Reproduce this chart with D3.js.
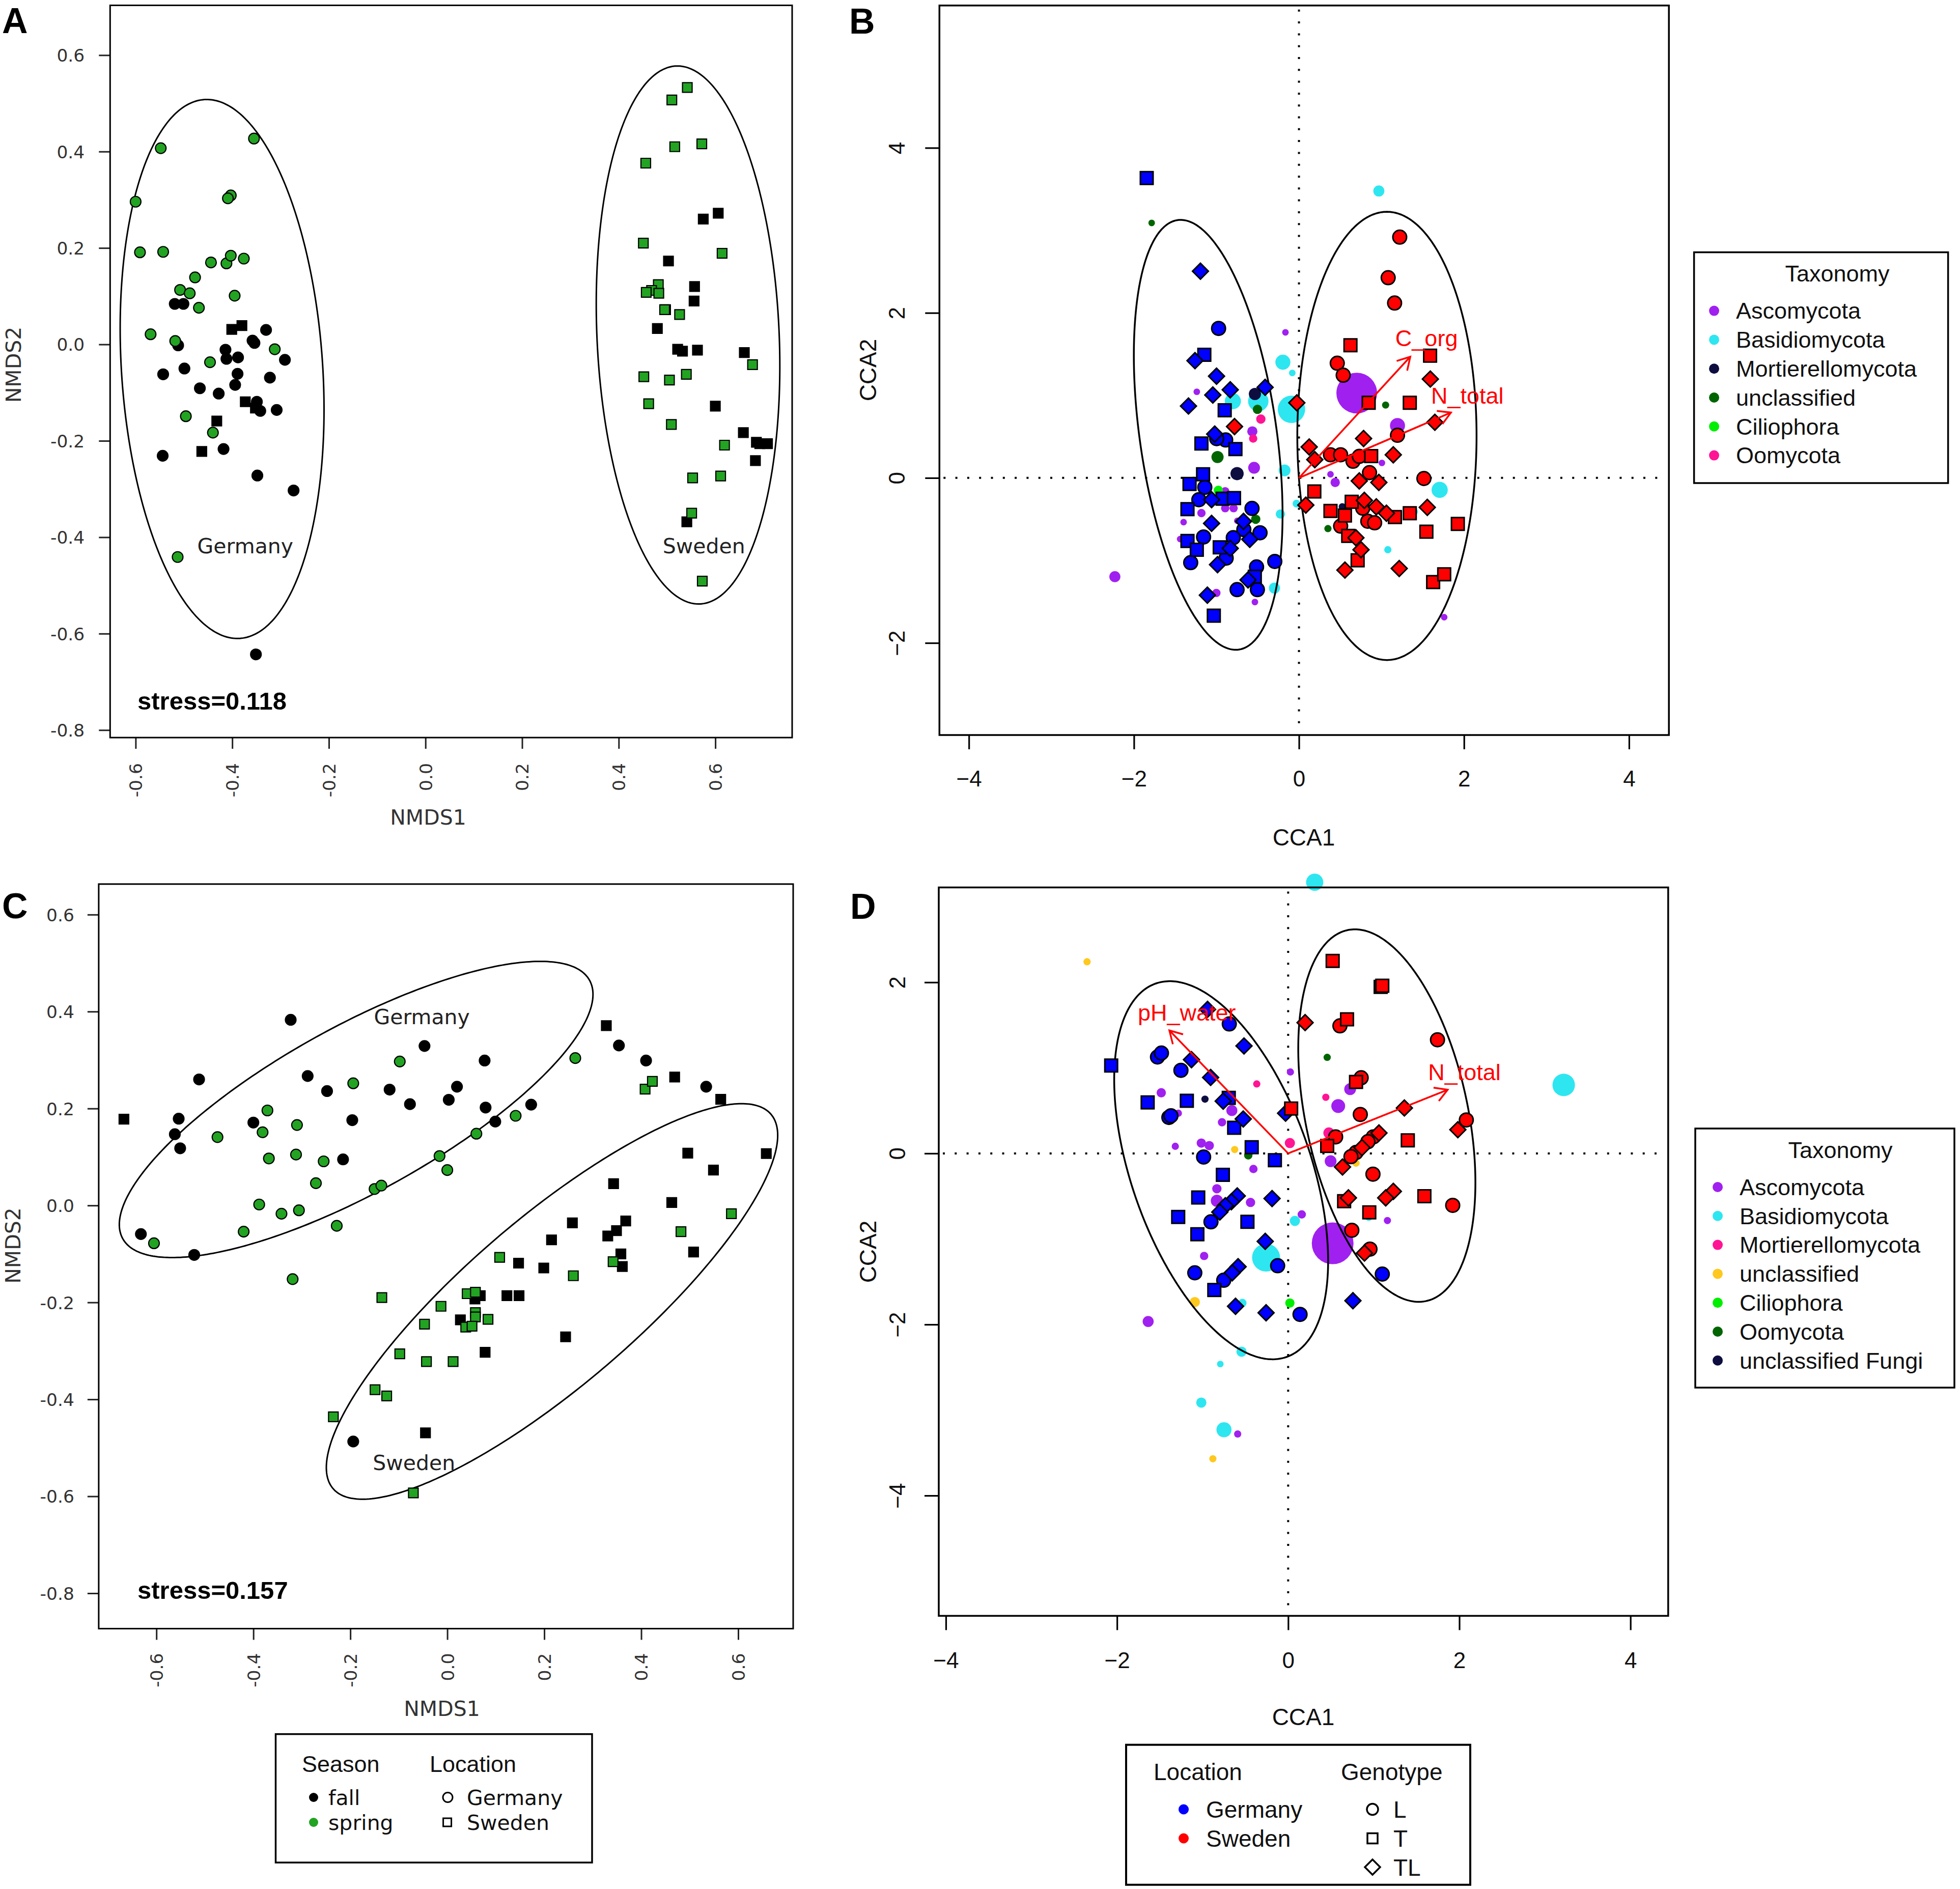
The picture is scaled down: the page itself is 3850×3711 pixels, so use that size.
<!DOCTYPE html>
<html><head><meta charset="utf-8">
<script src="https://cdn.jsdelivr.net/npm/d3@7"></script>
<style>body{margin:0;background:#fff}</style>
</head><body>
<svg id="chart" width="3850" height="3711" xmlns="http://www.w3.org/2000/svg"></svg>
<script>
// ---------------- DATA ----------------
const nmdsXTicks = [-0.6,-0.4,-0.2,0,0.2,0.4,0.6];
const nmdsYTicks = [-0.8,-0.6,-0.4,-0.2,0,0.2,0.4,0.6];
const ccaXTicks = [-4,-2,0,2,4];
const ccaBYTicks = [-2,0,2,4];
const ccaDYTicks = [-4,-2,0,2];

// Panel A (NMDS)
const aGermanyFall = [[-0.519,0.084],[-0.501,0.084],[-0.512,-0.002],[-0.414,-0.011],[-0.358,0.008],[-0.354,0.003],[-0.330,0.030],[-0.412,-0.030],[-0.388,-0.027],[-0.389,-0.061],[-0.291,-0.032],[-0.543,-0.062],[-0.499,-0.050],[-0.322,-0.069],[-0.394,-0.084],[-0.467,-0.091],[-0.428,-0.102],[-0.349,-0.119],[-0.342,-0.138],[-0.308,-0.136],[-0.544,-0.231],[-0.418,-0.217],[-0.348,-0.272],[-0.273,-0.303],[-0.351,-0.643]];
const aGermanySpring = [[-0.548,0.407],[-0.355,0.427],[-0.600,0.296],[-0.591,0.191],[-0.543,0.192],[-0.403,0.309],[-0.409,0.303],[-0.444,0.170],[-0.412,0.168],[-0.403,0.184],[-0.376,0.178],[-0.477,0.139],[-0.508,0.113],[-0.488,0.106],[-0.395,0.101],[-0.469,0.076],[-0.569,0.021],[-0.518,0.007],[-0.446,-0.037],[-0.312,-0.010],[-0.496,-0.149],[-0.440,-0.183],[-0.513,-0.441]];
const aSwedenFall = [[-0.401,0.031],[-0.380,0.039],[-0.373,-0.119],[-0.352,-0.132],[-0.432,-0.159],[-0.463,-0.222],[0.575,0.260],[0.606,0.272],[0.503,0.173],[0.557,0.120],[0.556,0.090],[0.497,0.072],[0.480,0.033],[0.522,-0.010],[0.532,-0.014],[0.563,-0.012],[0.660,-0.017],[0.600,-0.128],[0.658,-0.183],[0.685,-0.203],[0.692,-0.206],[0.708,-0.206],[0.683,-0.241],[0.541,-0.368]];
const aSwedenSpring = [[0.542,0.533],[0.510,0.507],[0.516,0.410],[0.572,0.416],[0.456,0.376],[0.451,0.210],[0.614,0.189],[0.482,0.124],[0.468,0.112],[0.457,0.108],[0.483,0.106],[0.495,0.072],[0.526,0.062],[0.677,-0.042],[0.452,-0.067],[0.505,-0.074],[0.540,-0.062],[0.462,-0.123],[0.509,-0.166],[0.619,-0.209],[0.553,-0.277],[0.611,-0.273],[0.551,-0.350],[0.573,-0.491]];
const aEllipses = [{cx:-0.421,cy:-0.051,w:0.211,h:0.559,rho:-0.15},{cx:0.5435,cy:0.0195,w:0.190,h:0.558,rho:-0.115}];
const aLabels = [{text:"Germany",x:-0.373,y:-0.42},{text:"Sweden",x:0.5765,y:-0.42}];
const aStress = "stress=0.118";

// Panel C (NMDS)
const cGermanyFall = [[-0.323,0.383],[-0.512,0.260],[-0.554,0.179],[-0.562,0.147],[-0.551,0.118],[-0.288,0.267],[-0.248,0.236],[-0.400,0.171],[-0.215,0.095],[-0.196,0.176],[-0.119,0.239],[-0.077,0.209],[-0.047,0.329],[0.003,0.218],[0.020,0.245],[0.077,0.299],[0.079,0.202],[0.099,0.173],[0.173,0.208],[-0.632,-0.059],[-0.522,-0.102],[0.354,0.330],[0.410,0.299],[0.534,0.245],[-0.194,-0.487]];
const cGermanySpring = [[-0.098,0.297],[-0.194,0.252],[-0.371,0.196],[-0.381,0.151],[-0.474,0.141],[-0.310,0.166],[-0.312,0.105],[-0.368,0.097],[-0.255,0.091],[-0.271,0.046],[-0.150,0.034],[-0.136,0.041],[-0.016,0.102],[0.000,0.073],[0.060,0.148],[0.141,0.185],[0.264,0.304],[-0.388,0.002],[-0.342,-0.017],[-0.306,-0.010],[-0.420,-0.054],[-0.228,-0.042],[-0.605,-0.078],[-0.319,-0.152]];
const cSwedenFall = [[-0.667,0.178],[0.328,0.371],[0.469,0.265],[0.564,0.219],[0.496,0.108],[0.658,0.107],[0.549,0.073],[0.343,0.045],[0.463,0.006],[0.258,-0.036],[0.331,-0.063],[0.349,-0.052],[0.368,-0.032],[0.215,-0.071],[0.358,-0.100],[0.361,-0.126],[0.508,-0.096],[0.147,-0.119],[0.199,-0.129],[0.123,-0.186],[0.148,-0.186],[0.068,-0.186],[0.057,-0.193],[0.027,-0.236],[0.078,-0.303],[0.244,-0.271],[-0.045,-0.469]];
const cSwedenSpring = [[0.408,0.240],[0.423,0.256],[0.108,-0.107],[0.342,-0.116],[0.260,-0.145],[0.482,-0.054],[0.586,-0.017],[-0.135,-0.190],[0.041,-0.182],[0.058,-0.179],[-0.013,-0.208],[0.058,-0.221],[0.058,-0.230],[0.084,-0.235],[-0.047,-0.245],[0.038,-0.251],[0.051,-0.249],[-0.098,-0.306],[-0.043,-0.322],[0.012,-0.322],[-0.149,-0.380],[-0.125,-0.393],[-0.235,-0.436],[-0.070,-0.593]];
const cEllipses = [{cx:-0.188,cy:0.198,w:0.4885,h:0.3055,rho:0.777},{cx:0.216,cy:-0.198,w:0.4655,h:0.408,rho:0.84}];
const cLabels = [{text:"Germany",x:-0.0525,y:0.387},{text:"Sweden",x:-0.0686,y:-0.533}];
const cStress = "stress=0.157";

// Panel B (CCA)
const taxaB = ["Ascomycota","Basidiomycota","Mortierellomycota","unclassified","Ciliophora","Oomycota"];
const bSpecies = [ // [taxon, CCA1, CCA2, relative abundance]
 ["Ascomycota",-0.164,1.764,2.5],["Ascomycota",-1.238,1.044,2.5],["Ascomycota",-0.565,0.564,6],["Ascomycota",-0.544,0.123,8],
 ["Ascomycota",-0.894,-0.162,4],["Ascomycota",-0.894,-0.367,4],["Ascomycota",-0.792,-0.367,4],["Ascomycota",-1.182,-0.426,4],
 ["Ascomycota",-1.398,-0.536,2.5],["Ascomycota",-1.440,-0.741,2.5],["Ascomycota",-0.746,-0.520,2.5],["Ascomycota",-2.231,-1.197,7],
 ["Ascomycota",-1.001,-1.394,4],["Ascomycota",-0.534,-1.504,2.5],["Ascomycota",0.700,1.028,95],["Ascomycota",1.194,0.635,13],
 ["Ascomycota",1.005,0.182,2.5],["Ascomycota",0.382,0.044,2.5],["Ascomycota",0.439,-0.055,5],["Ascomycota",1.760,-1.688,2.5],
 ["Basidiomycota",0.968,3.477,7],["Basidiomycota",-0.195,1.402,13],["Basidiomycota",-0.081,1.272,2.5],["Basidiomycota",-0.801,0.930,15],
 ["Basidiomycota",-0.493,0.930,24],["Basidiomycota",-0.091,0.831,43],["Basidiomycota",-0.174,0.091,8],["Basidiomycota",-0.225,-0.438,5],
 ["Basidiomycota",-0.030,-0.312,3.5],["Basidiomycota",-0.297,-1.335,7],["Basidiomycota",1.705,-0.145,15],["Basidiomycota",1.390,-0.409,4],
 ["Basidiomycota",1.077,-0.870,3],
 ["Mortierellomycota",-0.534,1.017,8.5],["Mortierellomycota",-0.750,0.052,10],["Mortierellomycota",0.525,-0.350,3],
 ["unclassified",-1.785,3.090,2.5],["unclassified",-0.503,0.831,5],["unclassified",-0.987,0.253,8.5],["unclassified",-0.524,-0.501,5],
 ["unclassified",1.050,0.883,3],["unclassified",0.351,-0.614,3],
 ["Ciliophora",-0.977,-0.150,5],
 ["Oomycota",-0.462,0.713,5],["Oomycota",-0.555,0.477,4]
];
const bGermanyL = [[-0.974,1.812],[-0.888,0.460],[-0.997,0.476],[-1.141,-0.114],[-1.213,-0.264],[-0.569,-0.370],[-0.668,-0.626],[-0.472,-0.665],[-1.156,-0.716],[-0.796,-0.724],[-0.882,-0.972],[-1.312,-1.027],[-0.293,-1.012],[-0.514,-1.079],[-0.504,-1.354],[-0.750,-1.354]];
const bGermanyT = [[-1.845,3.634],[-1.147,1.492],[-0.900,0.820],[-1.182,0.417],[-0.770,0.350],[-1.162,0.044],[-1.326,-0.074],[-0.925,-0.252],[-0.787,-0.244],[-1.351,-0.378],[-1.351,-0.764],[-1.238,-0.870],[-0.960,-0.842],[-0.535,-1.197],[-1.032,-1.669]];
const bGermanyTL = [[-1.194,2.505],[-1.260,1.421],[-0.999,1.233],[-0.833,1.068],[-1.044,1.005],[-1.339,0.871],[-0.410,1.098],[-1.021,0.531],[-1.059,-0.264],[-1.059,-0.551],[-0.672,-0.527],[-0.596,-0.744],[-0.833,-0.854],[-0.987,-1.051],[-0.617,-1.236],[-1.110,-1.421]];
const bSwedenL = [[1.221,2.918],[1.081,2.426],[1.159,2.119],[0.464,1.390],[0.536,1.245],[1.194,0.517],[0.382,0.280],[0.505,0.280],[0.655,0.202],[0.731,0.261],[0.855,0.064],[1.514,-0.007],[0.773,-0.367],[0.834,-0.525],[0.917,-0.544],[0.505,-0.584]];
const bSwedenT = [[0.624,1.607],[1.589,1.481],[0.845,0.910],[1.343,0.910],[0.875,0.265],[0.186,-0.164],[0.382,-0.400],[0.557,-0.455],[0.639,-0.289],[1.163,-0.475],[1.343,-0.428],[1.544,-0.652],[1.925,-0.558],[0.597,-0.703],[0.711,-0.998],[1.626,-1.263],[1.760,-1.168]];
const bSwedenTL = [[-0.781,0.622],[-0.026,0.910],[0.124,0.375],[0.192,0.221],[0.083,-0.330],[1.592,1.198],[1.647,0.674],[0.783,0.477],[1.143,0.280],[0.731,-0.036],[0.968,-0.055],[0.792,-0.272],[0.937,-0.351],[1.060,-0.428],[1.555,-0.357],[0.690,-0.725],[0.752,-0.870],[0.557,-1.117],[1.215,-1.098]];
const bEllipses = [{cx:-1.10,cy:0.522,w:0.901,h:2.605,rho:-0.37},{cx:1.066,cy:0.509,w:1.086,h:2.716,rho:0.0}];
const bArrows = [{name:"C_org",x:1.349,y:1.469,lx:1.546,ly:1.697},{name:"N_total",x:1.842,y:0.792,lx:2.04,ly:0.997}];

// Panel D (CCA)
const taxaD = ["Ascomycota","Basidiomycota","Mortierellomycota","unclassified","Ciliophora","Oomycota","unclassified Fungi"];
const dSpecies = [
 ["Ascomycota",0.026,0.952,3],["Ascomycota",-1.483,0.709,5],["Ascomycota",-0.658,0.501,7],["Ascomycota",-1.283,0.470,3],
 ["Ascomycota",-0.773,0.364,4],["Ascomycota",-1.015,0.121,5],["Ascomycota",-0.922,0.091,5],["Ascomycota",-1.319,0.083,3],
 ["Ascomycota",-0.406,-0.182,4],["Ascomycota",-0.833,-0.413,5],["Ascomycota",-0.833,-0.554,8.5],["Ascomycota",-0.440,-0.573,5],
 ["Ascomycota",0.159,-0.713,4],["Ascomycota",-0.982,-1.199,4],["Ascomycota",-1.636,-1.965,7],["Ascomycota",-0.590,-3.280,3],
 ["Ascomycota",0.724,0.751,8],["Ascomycota",0.585,0.554,11],["Ascomycota",0.496,-0.091,8],["Ascomycota",0.456,0.068,5],
 ["Ascomycota",1.160,-0.785,3],["Ascomycota",0.520,-1.051,100],
 ["Basidiomycota",0.310,3.170,17],["Basidiomycota",3.220,0.800,29],["Basidiomycota",0.079,-0.789,6],["Basidiomycota",-0.258,-1.218,45],
 ["Basidiomycota",-0.535,-1.749,4],["Basidiomycota",-0.545,-2.318,6],["Basidiomycota",-0.793,-2.462,2.5],["Basidiomycota",-1.015,-2.913,6],
 ["Basidiomycota",-0.750,-3.230,13],["Basidiomycota",0.694,-0.008,3],["Basidiomycota",0.942,-0.747,3],
 ["Mortierellomycota",-0.367,0.812,3],["Mortierellomycota",0.020,0.121,6],["Mortierellomycota",0.440,0.656,3],["Mortierellomycota",0.476,0.239,7],
 ["unclassified",-2.350,2.240,3],["unclassified",-0.625,0.045,3],["unclassified",-1.091,-1.738,6],["unclassified",0.793,-0.114,3],["unclassified",-0.880,-3.570,3],
 ["Ciliophora",0.020,-1.749,5],
 ["Oomycota",0.456,1.123,3],["Oomycota",-0.466,-0.023,4],
 ["unclassified Fungi",-0.972,0.634,3]
];
const dGermanyL = [[-0.688,1.513],[-1.527,1.127],[-1.481,1.173],[-1.253,0.971],[-1.394,0.421],[-1.370,0.440],[-0.988,-0.042],[-0.902,-0.800],[-0.123,-1.313],[-1.091,-1.396],[-0.753,-1.483],[0.139,-1.882],[1.100,-1.411]];
const dGermanyT = [[-2.068,1.028],[-1.642,0.596],[-1.184,0.615],[-0.694,0.649],[-0.631,0.300],[-0.426,0.072],[-0.155,-0.080],[-0.763,-0.251],[-1.051,-0.516],[-1.285,-0.743],[-0.476,-0.800],[-1.061,-0.945],[-0.863,-1.597]];
const dGermanyTL = [[-0.942,1.684],[-0.516,1.256],[-1.130,1.096],[-0.906,0.888],[-0.759,0.611],[-0.525,0.402],[-0.030,0.470],[-0.188,-0.528],[-0.595,-0.497],[-0.664,-0.565],[-0.734,-0.611],[-0.799,-0.686],[-0.268,-1.028],[-0.585,-1.324],[-0.654,-1.396],[-0.615,-1.787],[-0.258,-1.863],[0.757,-1.722]];
const dSwedenL = [[0.605,1.491],[1.745,1.328],[0.853,0.884],[0.843,0.455],[2.082,0.391],[0.555,0.193],[0.995,0.193],[0.932,0.137],[0.793,0.011],[0.734,-0.038],[0.991,-0.243],[1.923,-0.607],[0.744,-0.899],[0.956,-1.119]];
const dSwedenT = [[0.520,2.250],[1.081,1.946],[1.100,1.960],[0.688,1.567],[0.793,0.835],[0.035,0.525],[0.456,0.087],[1.398,0.152],[0.654,-0.558],[1.592,-0.501],[0.948,-0.690]];
const dSwedenTL = [[0.198,1.529],[1.358,0.531],[1.983,0.277],[1.061,0.239],[0.863,0.068],[0.635,-0.159],[0.704,-0.520],[1.229,-0.444],[1.140,-0.520],[0.892,-1.165]];
const dEllipses = [{cx:-0.783,cy:-0.197,w:1.25,h:2.21,rho:-0.48},{cx:1.153,cy:0.442,w:1.035,h:2.177,rho:-0.36}];
const dArrows = [{name:"pH_water",x:-1.388,y:1.438,lx:-1.184,ly:1.648},{name:"N_total",x:1.864,y:0.744,lx:2.06,ly:0.952}];

// ---------------- STYLE ----------------
const fontN = "'DejaVu Sans', sans-serif";
const fontC = "'Liberation Sans', Arial, sans-serif";
const seasonColor = {fall:"#000000", spring:"#22a322"};
const locColor = {Germany:"#0000ff", Sweden:"#ff0000"};
const taxColorB = {"Ascomycota":"#a020f0","Basidiomycota":"#2ee6f0","Mortierellomycota":"#0d0d40","unclassified":"#006400","Ciliophora":"#00ee00","Oomycota":"#ff1493"};
const taxColorD = {"Ascomycota":"#a020f0","Basidiomycota":"#2ee6f0","Mortierellomycota":"#ff1493","unclassified":"#ffc81e","Ciliophora":"#00ee00","Oomycota":"#006400","unclassified Fungi":"#0d0d40"};

const svg = d3.select("#chart");
svg.append("rect").attr("width",3850).attr("height",3711).attr("fill","#fff");

function scales(p){
  return {x:d3.scaleLinear().domain(p.xd).range([p.left,p.right]),
          y:d3.scaleLinear().domain(p.yd).range([p.bottom,p.top])};
}
function ellipsePath(e, x, y){
  const phi = Math.acos(e.rho), pts=[];
  for(let i=0;i<360;i++){const t=i/360*2*Math.PI; pts.push([e.cx+e.w*Math.cos(t), e.cy+e.h*Math.cos(t-phi)]);}
  return d3.line().x(d=>x(d[0])).y(d=>y(d[1])).curve(d3.curveLinearClosed)(pts);
}
function sym(shape, size){
  if(shape==="circle") return d3.symbol(d3.symbolCircle, Math.PI*size*size)();
  return d3.symbol(d3.symbolSquare, size*size)();
}
function drawMarks(g, data, shape, fill, size, stroke, sw, x, y){
  g.selectAll(null).data(data).enter().append("path")
    .attr("d", sym(shape==="diamond"?"square":shape, size))
    .attr("transform", d=>`translate(${x(d[0])},${y(d[1])})`+(shape==="diamond"?" rotate(45)":""))
    .attr("fill", fill).attr("stroke", stroke).attr("stroke-width", sw);
}
function panelLetter(t, px, py){
  svg.append("text").attr("x",px).attr("y",py).text(t)
    .attr("font-family",fontC).attr("font-weight","bold").attr("font-size",70).attr("fill","#000");
}

// ---------------- NMDS PANELS ----------------
function drawNMDS(p, groups, ellipses, labels, stress){
  const {x,y} = scales(p);
  const g = svg.append("g");
  const xa = g.append("g").attr("transform",`translate(0,${p.bottom})`)
    .call(d3.axisBottom(x).tickValues(nmdsXTicks).tickSize(22).tickSizeOuter(0).tickFormat(d=>d.toFixed(1)));
  xa.select(".domain").remove();
  xa.selectAll("line").attr("stroke","#222").attr("stroke-width",3);
  xa.selectAll("text").attr("transform","rotate(-90)").attr("x",-p.xlabOff).attr("y",0).attr("dy","0.36em")
    .style("text-anchor","end").attr("font-family",fontN).attr("font-size",34.5).attr("fill","#333");
  const ya = g.append("g").attr("transform",`translate(${p.left},0)`)
    .call(d3.axisLeft(y).tickValues(nmdsYTicks).tickSize(22).tickSizeOuter(0).tickFormat(d=>d.toFixed(1)));
  ya.select(".domain").remove();
  ya.selectAll("line").attr("stroke","#222").attr("stroke-width",3);
  ya.selectAll("text").attr("x",-p.ylabOff).attr("dy","0.36em")
    .attr("font-family",fontN).attr("font-size",34.5).attr("fill","#333");
  ellipses.forEach(e=>g.append("path").attr("d",ellipsePath(e,x,y)).attr("fill","none").attr("stroke","#000").attr("stroke-width",3));
  groups.forEach(gr=>drawMarks(g, gr.data, gr.shape, gr.fill, gr.shape==="circle"?10.5:19, "#000", 2.2, x, y));
  labels.forEach(l=>g.append("text").attr("x",x(l.x)).attr("y",y(l.y)).attr("dy","0.3em").attr("text-anchor","middle")
    .attr("font-family",fontN).attr("font-size",41).attr("fill","#222").text(l.text));
  g.append("text").attr("x",p.stressX).attr("y",p.stressY).text(stress)
    .attr("font-family",fontC).attr("font-weight","bold").attr("font-size",49).attr("fill","#000");
  g.append("rect").attr("x",p.left).attr("y",p.top).attr("width",p.right-p.left).attr("height",p.bottom-p.top)
    .attr("fill","none").attr("stroke","#000").attr("stroke-width",3);
  g.append("text").attr("x",p.xt[0]).attr("y",p.xt[1]).attr("text-anchor","middle")
    .attr("font-family",fontN).attr("font-size",41).attr("fill","#333").text("NMDS1");
  g.append("text").attr("transform",`translate(${p.yt[0]},${p.yt[1]}) rotate(-90)`).attr("dy","0.36em").attr("text-anchor","middle")
    .attr("font-family",fontN).attr("font-size",41).attr("fill","#333").text("NMDS2");
}

const pA = {left:216.3,right:1556,top:10.5,bottom:1449,xd:[-0.6528,0.759],yd:[-0.8156,0.7033],
  xlabOff:50,ylabOff:50,stressX:270,stressY:1394,xt:[841,1620],yt:[26.5,716.5]};
drawNMDS(pA,[
  {data:aGermanyFall,shape:"circle",fill:seasonColor.fall},
  {data:aSwedenFall,shape:"square",fill:seasonColor.fall},
  {data:aGermanySpring,shape:"circle",fill:seasonColor.spring},
  {data:aSwedenSpring,shape:"square",fill:seasonColor.spring}
], aEllipses, aLabels, aStress);

const pC = {left:193.9,right:1558,top:1736.8,bottom:3199.5,xd:[-0.719,0.7134],yd:[-0.873,0.663],
  xlabOff:48,ylabOff:48,stressX:270,stressY:3141,xt:[868,3371],yt:[25.5,2447]};
drawNMDS(pC,[
  {data:cGermanyFall,shape:"circle",fill:seasonColor.fall},
  {data:cSwedenFall,shape:"square",fill:seasonColor.fall},
  {data:cGermanySpring,shape:"circle",fill:seasonColor.spring},
  {data:cSwedenSpring,shape:"square",fill:seasonColor.spring}
], cEllipses, cLabels, cStress);

// ---------------- CCA PANELS ----------------
const abundR = d3.scaleSqrt().domain([0,100]).range([0,41]);
function ccaFmt(d){ return d<0 ? "\u2212"+Math.abs(d) : String(d); }

function drawCCA(p, yTicks, species, taxColor, samples, ellipses, arrows){
  const {x,y} = scales(p);
  const g = svg.append("g");
  const xa = g.append("g").attr("transform",`translate(0,${p.bottom})`)
    .call(d3.axisBottom(x).tickValues(ccaXTicks).tickSize(28).tickSizeOuter(0).tickFormat(ccaFmt));
  xa.select(".domain").remove();
  xa.selectAll("line").attr("stroke","#000").attr("stroke-width",3.2);
  xa.selectAll("text").attr("y",p.xlabOff).attr("dy",0).attr("font-family",fontC).attr("font-size",44).attr("fill","#111");
  const ya = g.append("g").attr("transform",`translate(${p.left},0)`)
    .call(d3.axisLeft(y).tickValues(yTicks).tickSize(28).tickSizeOuter(0).tickFormat(ccaFmt));
  ya.select(".domain").remove();
  ya.selectAll("line").attr("stroke","#000").attr("stroke-width",3.2);
  ya.selectAll("text").attr("x",null).attr("dy",null)
    .attr("transform",`translate(${-p.ylabOff},0) rotate(-90)`).attr("dy","0.36em").style("text-anchor","middle")
    .attr("font-family",fontC).attr("font-size",44).attr("fill","#111");
  g.append("line").attr("x1",x(0)).attr("x2",x(0)).attr("y1",p.top+8).attr("y2",p.bottom-8)
    .attr("stroke","#000").attr("stroke-width",4).attr("stroke-dasharray","4 19.3");
  g.append("line").attr("x1",p.left+8).attr("x2",p.right-4).attr("y1",y(0)).attr("y2",y(0))
    .attr("stroke","#000").attr("stroke-width",4).attr("stroke-dasharray","4 19.3");
  g.selectAll(null).data(species).enter().append("circle")
    .attr("cx",d=>x(d[1])).attr("cy",d=>y(d[2])).attr("r",d=>abundR(d[3])).attr("fill",d=>taxColor[d[0]]);
  ellipses.forEach(e=>g.append("path").attr("d",ellipsePath(e,x,y)).attr("fill","none").attr("stroke","#000").attr("stroke-width",3.5));
  samples.forEach(s=>{
    const size = s.shape==="circle"?13.5:(s.shape==="square"?25:22);
    drawMarks(g, s.data, s.shape, s.fill, size, "#000", 3, x, y);
  });
  arrows.forEach(a=>{
    const x0=x(0), y0=y(0), x1=x(a.x), y1=y(a.y);
    const ang=Math.atan2(y1-y0,x1-x0), L=28, da=Math.PI/6;
    g.append("line").attr("x1",x0).attr("y1",y0).attr("x2",x1).attr("y2",y1).attr("stroke","#ff0000").attr("stroke-width",3.5);
    g.append("path").attr("d",`M${x1-L*Math.cos(ang-da)},${y1-L*Math.sin(ang-da)}L${x1},${y1}L${x1-L*Math.cos(ang+da)},${y1-L*Math.sin(ang+da)}`)
      .attr("fill","none").attr("stroke","#ff0000").attr("stroke-width",3.5);
    g.append("text").attr("x",x(a.lx)).attr("y",y(a.ly)).attr("dy","0.35em").attr("text-anchor","middle")
      .attr("font-family",fontC).attr("font-size",45).attr("fill","#ff0000").text(a.name);
  });
  g.append("rect").attr("x",p.left).attr("y",p.top).attr("width",p.right-p.left).attr("height",p.bottom-p.top)
    .attr("fill","none").attr("stroke","#000").attr("stroke-width",3.5);
  g.append("text").attr("x",p.xt[0]).attr("y",p.xt[1]).attr("text-anchor","middle")
    .attr("font-family",fontC).attr("font-size",46).attr("fill","#111").text("CCA1");
  g.append("text").attr("transform",`translate(${p.yt[0]},${p.yt[1]}) rotate(-90)`).attr("dy","0.36em").attr("text-anchor","middle")
    .attr("font-family",fontC).attr("font-size",46).attr("fill","#111").text("CCA2");
}

function taxLegend(L, taxa, taxColor){
  const g = svg.append("g");
  g.append("rect").attr("x",L.x).attr("y",L.y).attr("width",L.w).attr("height",L.h).attr("fill","#fff").attr("stroke","#000").attr("stroke-width",3.5);
  g.append("text").attr("x",L.titleX).attr("y",L.titleY).attr("text-anchor","middle").attr("font-family",fontC).attr("font-size",45).attr("fill","#111").text("Taxonomy");
  taxa.forEach((t,i)=>{
    const cy = L.row0 + i*L.step;
    g.append("circle").attr("cx",L.dotX).attr("cy",cy).attr("r",10).attr("fill",taxColor[t]);
    g.append("text").attr("x",L.textX).attr("y",cy).attr("dy","0.35em").attr("font-family",fontC).attr("font-size",45).attr("fill","#111").text(t);
  });
}

const pB = {left:1845.3,right:3278.2,top:10.8,bottom:1444,xd:[-4.357,4.483],yd:[-3.116,5.725],
  xlabOff:101,ylabOff:84,xt:[2561,1661],yt:[1704,727]};
drawCCA(pB, ccaBYTicks, bSpecies, taxColorB, [
  {data:bGermanyL,shape:"circle",fill:locColor.Germany},{data:bGermanyT,shape:"square",fill:locColor.Germany},{data:bGermanyTL,shape:"diamond",fill:locColor.Germany},
  {data:bSwedenL,shape:"circle",fill:locColor.Sweden},{data:bSwedenT,shape:"square",fill:locColor.Sweden},{data:bSwedenTL,shape:"diamond",fill:locColor.Sweden}
], bEllipses, bArrows);
taxLegend({x:3327.6,y:495.6,w:499,h:453.4,titleX:3609,titleY:553,row0:610.6,step:56.8,dotX:3367,textX:3410}, taxaB, taxColorB);

const pD = {left:1844,right:3276.8,top:1743.4,bottom:3174.4,xd:[-4.083,4.441],yd:[-5.406,3.109],
  xlabOff:102.5,ylabOff:82.3,xt:[2560,3389],yt:[1704,2459]};
drawCCA(pD, ccaDYTicks, dSpecies, taxColorD, [
  {data:dGermanyL,shape:"circle",fill:locColor.Germany},{data:dGermanyT,shape:"square",fill:locColor.Germany},{data:dGermanyTL,shape:"diamond",fill:locColor.Germany},
  {data:dSwedenL,shape:"circle",fill:locColor.Sweden},{data:dSwedenT,shape:"square",fill:locColor.Sweden},{data:dSwedenTL,shape:"diamond",fill:locColor.Sweden}
], dEllipses, dArrows);
taxLegend({x:3330,y:2217,w:509,h:509,titleX:3615,titleY:2275,row0:2332,step:56.8,dotX:3374,textX:3417}, taxaD, taxColorD);

// ---------------- BOTTOM LEGENDS ----------------
(function(){
  const g = svg.append("g");
  g.append("rect").attr("x",541.5).attr("y",3406.7).attr("width",621.5).attr("height",252.3).attr("fill","#fff").attr("stroke","#000").attr("stroke-width",3.5);
  const tf = s=>s.attr("font-family",fontN).attr("font-size",41).attr("fill","#111");
  const hf = s=>s.attr("font-family",fontC).attr("font-size",45).attr("fill","#111");
  hf(g.append("text").attr("x",593).attr("y",3481).text("Season"));
  hf(g.append("text").attr("x",844).attr("y",3481).text("Location"));
  const seasons = ["fall","spring"], rows=[3531,3580];
  seasons.forEach((s,i)=>{
    g.append("circle").attr("cx",616).attr("cy",rows[i]).attr("r",9).attr("fill",seasonColor[s]);
    tf(g.append("text").attr("x",645).attr("y",rows[i]).attr("dy","0.36em").text(s));
  });
  g.append("circle").attr("cx",879.5).attr("cy",rows[0]).attr("r",9.5).attr("fill","none").attr("stroke","#000").attr("stroke-width",3);
  g.append("rect").attr("x",878.6-8).attr("y",rows[1]-8).attr("width",16).attr("height",16).attr("fill","none").attr("stroke","#000").attr("stroke-width",3);
  ["Germany","Sweden"].forEach((l,i)=>tf(g.append("text").attr("x",917).attr("y",rows[i]).attr("dy","0.36em").text(l)));
})();
(function(){
  const g = svg.append("g");
  g.append("rect").attr("x",2212).attr("y",3427.7).attr("width",676).attr("height",275).attr("fill","#fff").attr("stroke","#000").attr("stroke-width",4);
  const tf = s=>s.attr("font-family",fontC).attr("font-size",46).attr("fill","#111");
  tf(g.append("text").attr("x",2266).attr("y",3497).text("Location"));
  tf(g.append("text").attr("x",2634).attr("y",3497).text("Genotype"));
  const rows=[3554.5,3611.5,3668];
  ["Germany","Sweden"].forEach((l,i)=>{
    g.append("circle").attr("cx",2325).attr("cy",rows[i]).attr("r",10).attr("fill",locColor[l]);
    tf(g.append("text").attr("x",2369).attr("y",rows[i]).attr("dy","0.36em").text(l));
  });
  g.append("circle").attr("cx",2696).attr("cy",rows[0]).attr("r",11).attr("fill","none").attr("stroke","#000").attr("stroke-width",3.5);
  g.append("rect").attr("x",2686).attr("y",rows[1]-10).attr("width",20).attr("height",20).attr("fill","none").attr("stroke","#000").attr("stroke-width",3.5);
  g.append("path").attr("d",`M2696,${rows[2]-15}L2711,${rows[2]}L2696,${rows[2]+15}L2681,${rows[2]}Z`).attr("fill","none").attr("stroke","#000").attr("stroke-width",3.5);
  ["L","T","TL"].forEach((l,i)=>tf(g.append("text").attr("x",2737).attr("y",rows[i]).attr("dy","0.36em").text(l)));
})();

panelLetter("A",4,65);
panelLetter("B",1668,66);
panelLetter("C",4,1804);
panelLetter("D",1670,1805);
</script>
</body></html>
